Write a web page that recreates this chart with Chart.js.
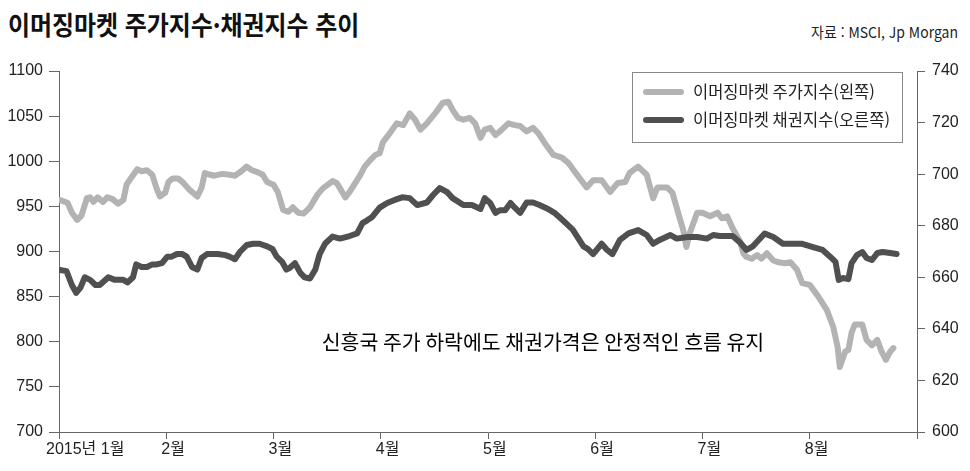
<!DOCTYPE html>
<html lang="ko">
<head>
<meta charset="utf-8">
<script src="https://cdn.jsdelivr.net/npm/chart.js@4.4.1/dist/chart.umd.min.js"></script>
<style>
    html, body { margin: 0; padding: 0; background: #fff; }
    #wrap { position: relative; width: 970px; height: 471px; overflow: hidden; }
    #title {
        position: absolute; left: 8px; top: 5px; white-space: nowrap;
        font-family: "Noto Sans CJK KR", sans-serif; font-weight: 700; font-size: 26px;
        color: #111; transform-origin: left top; transform: scaleX(0.92);
    }
    #source {
        position: absolute; right: 12px; top: 21px; white-space: nowrap;
        font-family: "Noto Sans CJK KR", sans-serif; font-size: 15px;
        color: #222; transform-origin: right top; transform: scaleX(0.93);
    }
    canvas { position: absolute; left: 0; top: 0; }
</style>
</head>
<body>
<div id="wrap">
    <div id="title">이머징마켓 주가지수·채권지수 추이</div>
    <div id="source">자료 : MSCI, Jp Morgan</div>
    <canvas id="chart" width="970" height="471"></canvas>
</div>
<script>
// 월 눈금 (x = 1월 1일부터의 개월 수)
const months = ["2015년 1월", "2월", "3월", "4월", "5월", "6월", "7월", "8월"];
const leftTicks = [700, 750, 800, 850, 900, 950, 1000, 1050, 1100];
const rightTicks = [600, 620, 640, 660, 680, 700, 720, 740];
const seriesNames = ["이머징마켓 주가지수(왼쪽)", "이머징마켓 채권지수(오른쪽)"];
const noteText = "신흥국 주가 하락에도 채권가격은 안정적인 흐름 유지";

// 주가지수 (왼쪽 축)
const stockT = [0.01,0.08,0.12,0.17,0.21,0.26,0.29,0.32,0.36,0.41,0.45,0.50,0.55,0.60,0.63,0.68,0.73,0.77,0.82,0.87,
    0.91,0.94,0.99,1.02,1.06,1.11,1.16,1.22,1.29,1.33,1.36,1.41,1.45,1.52,1.59,1.64,1.69,1.75,1.80,1.85,
    1.90,1.94,2.00,2.04,2.09,2.14,2.18,2.23,2.28,2.34,2.41,2.46,2.55,2.59,2.67,2.71,2.81,2.85,2.90,2.95,
    2.99,3.02,3.09,3.15,3.21,3.27,3.32,3.37,3.43,3.52,3.58,3.63,3.67,3.72,3.77,3.83,3.88,3.93,3.97,4.02,
    4.07,4.11,4.19,4.25,4.30,4.36,4.42,4.47,4.53,4.61,4.69,4.75,4.83,4.92,4.98,5.06,5.14,5.21,5.28,5.32,
    5.40,5.48,5.54,5.58,5.67,5.72,5.78,5.82,5.85,5.88,5.95,6.00,6.07,6.14,6.18,6.23,6.28,6.35,6.38,6.41,
    6.46,6.51,6.55,6.60,6.66,6.71,6.77,6.82,6.88,6.93,7.00,7.08,7.16,7.22,7.26,7.28,7.33,7.36,7.39,7.42,
    7.49,7.53,7.58,7.63,7.67,7.71,7.75,7.78];
const stockValues = [957,954,943,935,940,959,960,955,960,955,960,958,953,957,974,983,991,989,990,985,
    970,961,965,977,981,981,976,968,961,971,987,985,984,986,985,984,988,994,990,988,
    985,977,974,966,946,944,949,943,942,949,963,970,978,976,960,966,985,994,1001,1007,
    1009,1021,1032,1042,1040,1053,1046,1035,1042,1055,1065,1066,1057,1048,1046,1048,1042,1026,1035,1037,
    1029,1033,1042,1040,1039,1033,1037,1031,1020,1007,1004,998,985,971,979,979,966,976,977,987,
    994,985,959,971,971,965,940,924,905,920,943,943,939,943,937,939,926,911,898,894,
    892,896,892,898,890,888,887,888,880,865,863,850,835,816,794,772,789,791,810,819,
    819,802,796,802,789,780,789,793];

// 채권지수 (오른쪽 축)
const bondT = [0.01,0.07,0.12,0.16,0.20,0.24,0.29,0.34,0.38,0.46,0.52,0.60,0.64,0.69,0.72,0.77,0.82,0.87,0.91,0.96,
    1.01,1.05,1.10,1.15,1.19,1.24,1.29,1.33,1.38,1.44,1.48,1.55,1.59,1.64,1.69,1.75,1.81,1.87,1.94,1.99,
    2.03,2.08,2.12,2.15,2.20,2.25,2.29,2.34,2.39,2.43,2.48,2.55,2.62,2.71,2.78,2.83,2.87,2.92,2.99,3.06,
    3.13,3.20,3.27,3.34,3.43,3.49,3.55,3.62,3.67,3.77,3.85,3.93,3.97,4.02,4.07,4.11,4.16,4.21,4.25,4.30,
    4.36,4.42,4.48,4.56,4.62,4.70,4.79,4.89,4.93,4.98,5.06,5.11,5.16,5.23,5.31,5.40,5.48,5.54,5.60,5.70,
    5.76,5.86,5.95,6.04,6.10,6.16,6.28,6.35,6.41,6.47,6.58,6.66,6.75,6.84,6.93,7.03,7.12,7.19,7.24,7.27,
    7.31,7.36,7.39,7.44,7.49,7.53,7.58,7.63,7.68,7.75,7.81];
const bondValues = [662.8,662.4,657,654,656,660,659,657,657,660,659,659,658,660,665,664,664,665,665,665.5,
    668,668,669,669,668,664,663,667.5,669,669,669,668.6,668,667,670,672.5,673,673,672,671,
    668,666,663,663.6,665.5,661.7,660,659.5,663,669,673,675.8,675,676,677,681,682,683.4,687,688.8,
    690,691,690.7,688,689,692,694.6,693,690.7,688,688,686.5,690.7,688.8,685,686,686,688.8,687,685,
    689,689,688,686.5,685,682,678.5,672,671,669,673,670.6,669,674.5,677,678.3,676.4,673,674.5,676.4,
    675,675.6,675.6,675,676.4,676,676,673.5,670.6,672,677,675.6,673,673,673,671.7,670.6,668,666,659,
    659.7,659.3,665.5,668.6,669.8,667.5,666.7,669.4,669.8,669.4,669];

const stockColor = "#b3b3b3";
const bondColor = "#505050";
const textFont = "'Liberation Sans', 'Noto Sans CJK KR', sans-serif";
const hangulFont = "'Noto Sans CJK KR', sans-serif";

function toPoints(ts, vs) {
    return ts.map((t, i) => ({ x: t, y: vs[i] }));
}

// 범례, 월 라벨, 설명 문구
const extras = {
    id: "extras",
    afterDraw(chart) {
        const ctx = chart.ctx;
        const xs = chart.scales.x;
        const yL = chart.scales.y;
        ctx.save();

        // 월 라벨
        ctx.fillStyle = "#222";
        ctx.font = "16px " + textFont;
        ctx.textAlign = "left";
        ctx.textBaseline = "middle";
        months.forEach((m, i) => {
            const px = xs.getPixelForValue(i);
            ctx.fillText(m, px - (i === 0 ? 13 : 5), xs.bottom - 21);
        });

        // 범례 상자
        ctx.strokeStyle = "#888";
        ctx.lineWidth = 1;
        ctx.strokeRect(632.5, 72.5, 270, 70);
        chart.data.datasets.forEach((ds, i) => {
            const y = 92 + i * 28;
            ctx.strokeStyle = ds.borderColor;
            ctx.lineWidth = 6;
            ctx.lineCap = "round";
            ctx.beginPath();
            ctx.moveTo(646, y);
            ctx.lineTo(681, y);
            ctx.stroke();
            ctx.fillStyle = "#222";
            ctx.font = "16.5px " + hangulFont;
            ctx.fillText(ds.label, 693, y);
        });

        // 설명 문구
        ctx.fillStyle = "#000";
        ctx.font = "20.5px " + hangulFont;
        ctx.fillText(noteText, xs.getPixelForValue(2.45), yL.getPixelForValue(800));
        ctx.restore();
    }
};

const ctx = document.getElementById("chart").getContext("2d");
const chart = new Chart(ctx, {
    type: "line",
    data: {
        datasets: [
            {
                label: seriesNames[0],
                data: toPoints(stockT, stockValues),
                yAxisID: "y",
                borderColor: stockColor,
                borderWidth: 6,
                order: 1
            },
            {
                label: seriesNames[1],
                data: toPoints(bondT, bondValues),
                yAxisID: "y1",
                borderColor: bondColor,
                borderWidth: 6,
                order: 0
            }
        ]
    },
    options: {
        responsive: false,
        animation: false,
        devicePixelRatio: 1,
        elements: {
            point: { radius: 0 },
            line: { tension: 0, borderJoinStyle: "round", borderCapStyle: "round", fill: false }
        },
        layout: { padding: { top: 71, left: 0, right: 0, bottom: 0 } },
        plugins: { legend: { display: false }, tooltip: { enabled: false } },
        scales: {
            x: {
                type: "linear",
                min: 0,
                max: months.length,
                afterFit: (s) => { s.height = 39; },
                ticks: { stepSize: 1, display: false },
                grid: { drawOnChartArea: false, tickLength: 7, color: "#666" },
                border: { color: "#666" }
            },
            y: {
                position: "left",
                min: leftTicks[0],
                max: leftTicks[leftTicks.length - 1],
                afterFit: (s) => { s.width = 59; },
                ticks: {
                    stepSize: leftTicks[1] - leftTicks[0],
                    padding: 6,
                    color: "#222",
                    font: { family: textFont, size: 16 },
                    callback: (v) => String(v)
                },
                grid: { drawOnChartArea: false, tickLength: 10, color: "#666" },
                border: { color: "#666" }
            },
            y1: {
                position: "right",
                min: rightTicks[0],
                max: rightTicks[rightTicks.length - 1],
                afterFit: (s) => { s.width = 53; },
                ticks: {
                    stepSize: rightTicks[1] - rightTicks[0],
                    padding: 7,
                    color: "#222",
                    font: { family: textFont, size: 16 },
                    callback: (v) => String(v)
                },
                grid: { drawOnChartArea: false, tickLength: 8, color: "#666" },
                border: { color: "#666" }
            }
        }
    },
    plugins: [extras]
});
</script>
</body>
</html>
